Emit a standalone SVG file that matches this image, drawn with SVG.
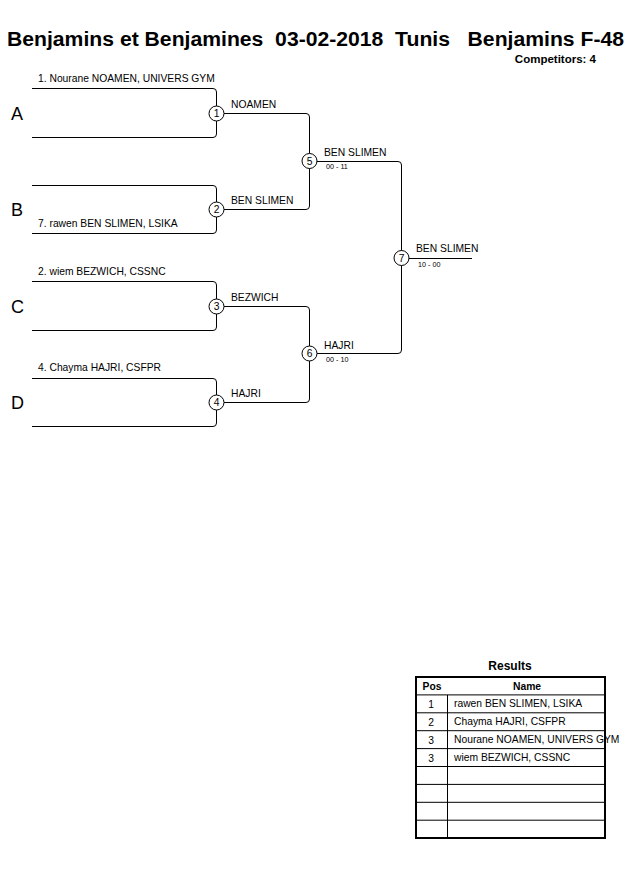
<svg xmlns="http://www.w3.org/2000/svg" width="630" height="891" viewBox="0 0 630 891">
<style>
text{font-family:"Liberation Sans",Arial,sans-serif;fill:#000}
.title{font-size:20px;font-weight:bold;white-space:pre}
.comp{font-size:11.5px;font-weight:bold}
.name{font-size:10.3px}
.lbl{font-size:10.3px}
.score{font-size:7.2px}
.letter{font-size:18px}
.mc{fill:#fff;stroke:#000;stroke-width:1}
.mn{font-size:10.3px;text-anchor:middle}
.ln{fill:none;stroke:#000;stroke-width:1}
.th{font-size:10.3px;font-weight:bold;text-anchor:middle}
.td{font-size:10.3px}
.tc{font-size:10.3px;text-anchor:middle}
</style>
<rect width="630" height="891" fill="#fff"/>
<text class="title" x="7" y="46" textLength="617" lengthAdjust="spacingAndGlyphs">Benjamins et Benjamines  03-02-2018  Tunis   Benjamins F-48</text>
<text class="comp" x="596" y="63" text-anchor="end">Competitors: 4</text>

<g id="connectors" class="ln">
<path d="M32,88.5 H213 Q216.5,88.5 216.5,92 V134 Q216.5,137.5 213,137.5 H32"/>
<path d="M32,185.5 H213 Q216.5,185.5 216.5,189 V230 Q216.5,233.5 213,233.5 H32"/>
<path d="M32,281.5 H213 Q216.5,281.5 216.5,285 V327 Q216.5,330.5 213,330.5 H32"/>
<path d="M32,378.5 H213 Q216.5,378.5 216.5,382 V423 Q216.5,426.5 213,426.5 H32"/>
<path d="M216.5,113.5 H306 Q309.5,113.5 309.5,117 V206 Q309.5,209.5 306,209.5 H216.5"/>
<path d="M216.5,306.5 H306 Q309.5,306.5 309.5,310 V399 Q309.5,402.5 306,402.5 H216.5"/>
<path d="M309.5,161.5 H398 Q401.5,161.5 401.5,165 V350 Q401.5,353.5 398,353.5 H309.5"/>
<path d="M401.5,258.5 H472"/>
</g>

<g id="entryA">
<text class="letter" x="11" y="120">A</text>
<text class="name" x="38" y="82">1. Nourane NOAMEN, UNIVERS GYM</text>
</g>
<g id="entryB">
<text class="letter" x="11" y="216">B</text>
<text class="name" x="38" y="227">7. rawen BEN SLIMEN, LSIKA</text>
</g>
<g id="entryC">
<text class="letter" x="11" y="313">C</text>
<text class="name" x="38" y="275">2. wiem BEZWICH, CSSNC</text>
</g>
<g id="entryD">
<text class="letter" x="11" y="409">D</text>
<text class="name" x="38" y="371">4. Chayma HAJRI, CSFPR</text>
</g>

<g id="m1"><circle class="mc" cx="216.5" cy="113.5" r="7.5"/><text class="mn" x="216.5" y="117">1</text><text class="lbl" x="231" y="108">NOAMEN</text></g>
<g id="m2"><circle class="mc" cx="216.5" cy="209.5" r="7.5"/><text class="mn" x="216.5" y="213">2</text><text class="lbl" x="231" y="204">BEN SLIMEN</text></g>
<g id="m3"><circle class="mc" cx="216.5" cy="306.5" r="7.5"/><text class="mn" x="216.5" y="310">3</text><text class="lbl" x="231" y="301">BEZWICH</text></g>
<g id="m4"><circle class="mc" cx="216.5" cy="402.5" r="7.5"/><text class="mn" x="216.5" y="406">4</text><text class="lbl" x="231" y="397">HAJRI</text></g>
<g id="m5"><circle class="mc" cx="309.5" cy="161" r="7.5"/><text class="mn" x="309.5" y="164.5">5</text><text class="lbl" x="324" y="156">BEN SLIMEN</text><text class="score" x="326" y="169">00 - 11</text></g>
<g id="m6"><circle class="mc" cx="309.5" cy="353.5" r="7.5"/><text class="mn" x="309.5" y="357">6</text><text class="lbl" x="324" y="349">HAJRI</text><text class="score" x="326" y="362">00 - 10</text></g>
<g id="m7"><circle class="mc" cx="401.5" cy="258" r="7.5"/><text class="mn" x="401.5" y="261.5">7</text><text class="lbl" x="416" y="252">BEN SLIMEN</text><text class="score" x="418" y="267">10 - 00</text></g>

<g id="results">
<text x="510" y="670" style="font-size:12px;font-weight:bold" text-anchor="middle">Results</text>
<g class="ln">
<path d="M416,694.9 H605 M416,712.8 H605 M416,730.7 H605 M416,748.6 H605 M416,766.5 H605 M416,784.4 H605 M416,802.3 H605 M416,820.2 H605 M447.5,694.9 V838"/>
<rect x="416" y="677" width="189" height="161" stroke-width="2"/>
</g>
<text class="th" x="432" y="690">Pos</text>
<text class="th" x="527" y="690">Name</text>
<text class="tc" x="431" y="708">1</text><text class="td" x="454" y="707">rawen BEN SLIMEN, LSIKA</text>
<text class="tc" x="431" y="726">2</text><text class="td" x="454" y="725">Chayma HAJRI, CSFPR</text>
<text class="tc" x="431" y="744">3</text><text class="td" x="454" y="743">Nourane NOAMEN, UNIVERS GYM</text>
<text class="tc" x="431" y="762">3</text><text class="td" x="454" y="761">wiem BEZWICH, CSSNC</text>
</g>
</svg>
